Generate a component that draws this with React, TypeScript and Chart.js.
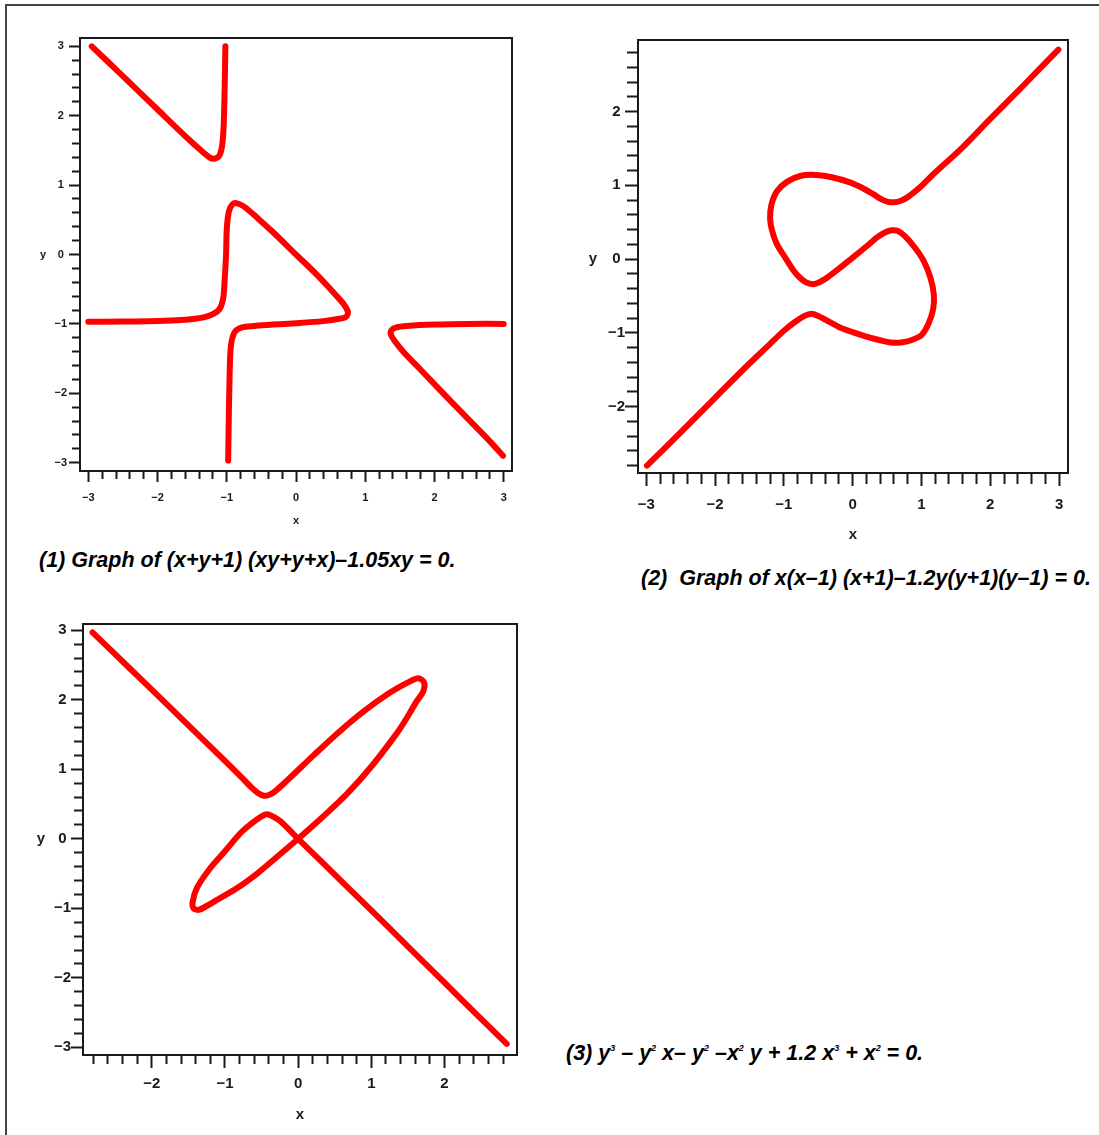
import React, { useEffect, useRef } from "react";
import { Chart, registerables } from "chart.js";

Chart.register(...registerables);

const FONT = '"Liberation Sans", Arial, Helvetica, sans-serif';
const RED = "#ff0000";
const INK = "#1a1a1a";
const MINOR_STEP = 0.2;

// ---------- Plot 1: (x+y+1)(xy+y+x) - 1.05xy = 0 ----------
const P1_UPPER_X = [-2.95, -2.5, -2.0, -1.54, -1.35, -1.25, -1.18, -1.11, -1.07, -1.05, -1.04, -1.03, -1.02];
const P1_UPPER_Y = [3.0, 2.57, 2.09, 1.65, 1.48, 1.4, 1.38, 1.42, 1.55, 1.75, 2.0, 2.4, 3.0];
const P1_MID_X = [-3.0, -2.5, -2.0, -1.6, -1.35, -1.2, -1.1, -1.05, -1.03, -1.01, -1.0, -0.97, -0.92, -0.86, -0.75, -0.55, -0.33, 0.0, 0.3, 0.58, 0.7, 0.75, 0.72, 0.6, 0.39, 0.0, -0.33, -0.6, -0.78, -0.88, -0.93, -0.95, -0.96, -0.97, -0.98];
const P1_MID_Y = [-0.97, -0.965, -0.96, -0.94, -0.91, -0.86, -0.78, -0.62, -0.36, 0.0, 0.36, 0.62, 0.72, 0.74, 0.69, 0.52, 0.32, 0.0, -0.29, -0.59, -0.73, -0.83, -0.9, -0.93, -0.96, -0.99, -1.01, -1.03, -1.05, -1.11, -1.25, -1.45, -1.8, -2.3, -2.97];
const P1_RIGHT_X = [3.0, 2.5, 2.0, 1.6, 1.45, 1.38, 1.37, 1.42, 1.55, 1.79, 2.27, 2.75, 2.99];
const P1_RIGHT_Y = [-1.0, -1.0, -1.01, -1.03, -1.05, -1.09, -1.15, -1.24, -1.4, -1.65, -2.15, -2.64, -2.9];
const P1_X_MAJOR = [-3, -2, -1, 0, 1, 2, 3];
const P1_Y_MAJOR = [-3, -2, -1, 0, 1, 2, 3];

// ---------- Plot 2: x(x-1)(x+1) - 1.2y(y+1)(y-1) = 0 ----------
const P2_X = [2.99, 2.5, 2.0, 1.56, 1.3, 1.15, 1.0, 0.9, 0.8, 0.7, 0.6, 0.5, 0.4, 0.3, 0.15, -0.04, -0.3, -0.53, -0.75, -0.95, -1.1, -1.18, -1.2, -1.17, -1.1, -0.98, -0.87, -0.77, -0.67, -0.58, -0.5, -0.4, -0.2, 0.0, 0.2, 0.35, 0.47, 0.57, 0.66, 0.76, 0.9, 1.03, 1.13, 1.18, 1.17, 1.1, 1.0, 0.85, 0.7, 0.55, 0.4, 0.2, 0.0, -0.2, -0.38, -0.5, -0.6, -0.7, -0.85, -1.01, -1.2, -1.56, -2.0, -2.5, -2.99];
const P2_Y = [2.84, 2.37, 1.9, 1.48, 1.26, 1.13, 0.99, 0.91, 0.84, 0.79, 0.77, 0.78, 0.82, 0.88, 0.96, 1.04, 1.11, 1.14, 1.13, 1.05, 0.92, 0.74, 0.55, 0.38, 0.2, 0.02, -0.14, -0.25, -0.32, -0.34, -0.32, -0.27, -0.13, 0.02, 0.17, 0.29, 0.36, 0.39, 0.38, 0.31, 0.16, -0.02, -0.25, -0.48, -0.68, -0.88, -1.03, -1.1, -1.13, -1.13, -1.1, -1.05, -0.99, -0.92, -0.83, -0.77, -0.74, -0.77, -0.86, -0.98, -1.15, -1.47, -1.88, -2.35, -2.8];
const P2_X_MAJOR = [-3, -2, -1, 0, 1, 2, 3];
const P2_Y_MAJOR = [-2, -1, 0, 1, 2];

// ---------- Plot 3: y^3 - y^2 x - y^2 - x^2 y + 1.2x^3 + x^2 = 0 ----------
const P3_X = [-2.81, -2.3, -1.8, -1.38, -1.0, -0.78, -0.64, -0.55, -0.47, -0.4, -0.32, -0.15, 0.21, 0.55, 0.89, 1.25, 1.5, 1.64, 1.72, 1.71, 1.62, 1.48, 1.35, 1.0, 0.67, 0.33, 0.0, -0.3, -0.56, -0.85, -1.16, -1.35, -1.43, -1.44, -1.38, -1.2, -1.0, -0.79, -0.6, -0.45, -0.38, -0.25, 0.0, 0.33, 0.67, 1.0, 1.5, 2.0, 2.5, 2.85];
const P3_Y = [2.97, 2.45, 1.94, 1.51, 1.12, 0.89, 0.74, 0.66, 0.62, 0.63, 0.68, 0.84, 1.2, 1.53, 1.83, 2.1, 2.25, 2.31, 2.25, 2.12, 1.98, 1.73, 1.52, 1.04, 0.65, 0.31, 0.0, -0.27, -0.5, -0.72, -0.91, -1.02, -1.0, -0.9, -0.7, -0.42, -0.18, 0.08, 0.25, 0.35, 0.34, 0.26, 0.0, -0.34, -0.69, -1.03, -1.55, -2.07, -2.59, -2.95];
const P3_X_MAJOR = [-2, -1, 0, 1, 2];
const P3_Y_MAJOR = [-3, -2, -1, 0, 1, 2, 3];

type AxisSpec = {
  min: number;
  max: number;
  majors: number[];
  minorFrom: number;
  minorTo: number;
  size: number;
  majorLen: number;
  minorLen: number;
  pad: number;
};

type PlotSpec = {
  series: { xs: number[]; ys: number[] }[];
  box: { left: number; top: number; width: number; height: number };
  padTop: number;
  padRight: number;
  x: AxisSpec;
  y: AxisSpec;
  tickFont: number;
  titleFont: number;
  titlePadBottom: number;
  yTitleX: number;
};

const PLOTS: PlotSpec[] = [
  {
    series: [
      { xs: P1_UPPER_X, ys: P1_UPPER_Y },
      { xs: P1_MID_X, ys: P1_MID_Y },
      { xs: P1_RIGHT_X, ys: P1_RIGHT_Y },
    ],
    box: { left: 20, top: 28, width: 500, height: 501 },
    padTop: 10,
    padRight: 8,
    x: { min: -3.12, max: 3.12, majors: P1_X_MAJOR, minorFrom: -3, minorTo: 3, size: 58, majorLen: 11, minorLen: 7, pad: 9 },
    y: { min: -3.12, max: 3.12, majors: P1_Y_MAJOR, minorFrom: -3, minorTo: 3, size: 60, majorLen: 11, minorLen: 7, pad: 2 },
    tickFont: 11,
    titleFont: 11,
    titlePadBottom: 1,
    yTitleX: 23,
  },
  {
    series: [{ xs: P2_X, ys: P2_Y }],
    box: { left: 578, top: 30, width: 498, height: 516 },
    padTop: 10,
    padRight: 8,
    x: { min: -3.12, max: 3.13, majors: P2_X_MAJOR, minorFrom: -3, minorTo: 3, size: 73, majorLen: 13, minorLen: 10, pad: 10 },
    y: { min: -2.9, max: 2.97, majors: P2_Y_MAJOR, minorFrom: -2.8, minorTo: 2.8, size: 60, majorLen: 13, minorLen: 10, pad: 0 },
    tickFont: 15,
    titleFont: 15,
    titlePadBottom: 2,
    yTitleX: 15,
  },
  {
    series: [{ xs: P3_X, ys: P3_Y }],
    box: { left: 23, top: 614, width: 502, height: 512 },
    padTop: 10,
    padRight: 8,
    x: { min: -2.94, max: 2.99, majors: P3_X_MAJOR, minorFrom: -2.8, minorTo: 2.8, size: 71, majorLen: 13, minorLen: 8, pad: 7 },
    y: { min: -3.11, max: 3.09, majors: P3_Y_MAJOR, minorFrom: -3, minorTo: 3, size: 60, majorLen: 12, minorLen: 8, pad: 0 },
    tickFont: 15,
    titleFont: 15,
    titlePadBottom: 2,
    yTitleX: 18,
  },
];

function tickValues(from: number, to: number, step: number): number[] {
  const out: number[] = [];
  const a = Math.round(from / step);
  const b = Math.round(to / step);
  for (let k = a; k <= b; k++) out.push(Math.round(k * step * 1000) / 1000);
  return out;
}

const isMajor = (majors: number[], v: number) => majors.some((m) => Math.abs(m - v) < 1e-6);
const fmt = (v: number) => (v < 0 ? "\u2212" + Math.abs(v) : String(v));

const decorPlugin = {
  id: "decor",
  afterDraw(chart: any, _args: any, opts: any) {
    const { ctx, chartArea } = chart;
    ctx.save();
    ctx.strokeStyle = INK;
    ctx.lineWidth = 2;
    ctx.strokeRect(chartArea.left, chartArea.top, chartArea.right - chartArea.left, chartArea.bottom - chartArea.top);
    ctx.fillStyle = INK;
    ctx.font = `bold ${opts.size}px ${FONT}`;
    ctx.textAlign = "center";
    ctx.textBaseline = "middle";
    ctx.fillText(opts.text, opts.x, chart.scales.y.getPixelForValue(0));
    ctx.restore();
  },
};

function makeAxis(a: AxisSpec, isX: boolean, spec: PlotSpec) {
  const tl = a.majorLen;
  const m = a.minorLen;
  return {
    type: "linear",
    position: isX ? "bottom" : "left",
    min: a.min,
    max: a.max,
    afterBuildTicks: (s: any) => {
      s.ticks = tickValues(a.minorFrom, a.minorTo, MINOR_STEP).map((v) => ({ value: v }));
    },
    afterFit: (s: any) => {
      if (isX) s.height = a.size;
      else s.width = a.size;
    },
    ticks: {
      autoSkip: false,
      maxRotation: 0,
      minRotation: 0,
      padding: a.pad,
      crossAlign: isX ? "near" : "center",
      color: INK,
      font: { family: FONT, size: spec.tickFont, weight: "bold" },
      callback: (v: number) => (isMajor(a.majors, v) ? fmt(v) : ""),
    },
    grid: {
      display: true,
      drawOnChartArea: false,
      drawTicks: true,
      tickLength: tl,
      tickWidth: 2,
      tickColor: INK,
      tickBorderDash: (c: any) => (c.tick && isMajor(a.majors, c.tick.value) ? [] : [m, 100]),
      tickBorderDashOffset: (c: any) =>
        c.tick && isMajor(a.majors, c.tick.value) ? 0 : isX ? 0 : 2 * m + 101 - tl,
    },
    border: { display: true, color: INK, width: 2 },
    title: isX
      ? {
          display: true,
          text: "x",
          color: INK,
          font: { family: FONT, size: spec.titleFont, weight: "bold" },
          padding: { top: 0, bottom: spec.titlePadBottom },
        }
      : { display: false },
  };
}

function ImplicitPlot({ spec }: { spec: PlotSpec }) {
  const ref = useRef<HTMLCanvasElement>(null);
  useEffect(() => {
    const canvas = ref.current;
    if (!canvas) return;
    const chart = new Chart(canvas, {
      type: "scatter",
      data: {
        datasets: spec.series.map((s) => ({
          data: s.xs.map((x, i) => ({ x, y: s.ys[i] })),
          showLine: true,
          borderColor: RED,
          backgroundColor: RED,
          borderWidth: 6,
          pointRadius: 0,
          pointHoverRadius: 0,
          tension: 0.3,
          borderCapStyle: "round",
          borderJoinStyle: "round",
          fill: false,
        })),
      },
      options: {
        responsive: false,
        animation: false,
        devicePixelRatio: 1,
        events: [],
        layout: { padding: { top: spec.padTop, right: spec.padRight, left: 0, bottom: 0 } },
        plugins: {
          legend: { display: false },
          tooltip: { enabled: false },
          decor: { text: "y", x: spec.yTitleX, size: spec.titleFont },
        } as any,
        scales: {
          x: makeAxis(spec.x, true, spec) as any,
          y: makeAxis(spec.y, false, spec) as any,
        },
      },
      plugins: [decorPlugin as any],
    });
    return () => chart.destroy();
  }, [spec]);
  const b = spec.box;
  return (
    <canvas
      ref={ref}
      width={b.width}
      height={b.height}
      style={{ position: "absolute", left: b.left, top: b.top, width: b.width, height: b.height, display: "block" }}
    />
  );
}

const captionStyle: React.CSSProperties = {
  position: "absolute",
  fontFamily: FONT,
  fontWeight: "bold",
  fontStyle: "italic",
  fontSize: 21.5,
  lineHeight: "24px",
  color: "#000",
  whiteSpace: "pre",
};
const supStyle: React.CSSProperties = { fontSize: 9, verticalAlign: "9px", lineHeight: 0 };

export default function App() {
  return (
    <div
      style={{
        position: "absolute",
        left: 0,
        top: 0,
        width: 1099,
        height: 1135,
        overflow: "hidden",
        background: "#fff",
      }}
    >
      <div
        style={{
          position: "absolute",
          left: 5,
          top: 4,
          right: 0,
          bottom: 0,
          borderTop: "2px solid #444",
          borderLeft: "2px solid #444",
        }}
      />
      {PLOTS.map((p, i) => (
        <ImplicitPlot key={i} spec={p} />
      ))}
      <div style={{ ...captionStyle, left: 39, top: 548 }}>(1) Graph of (x+y+1) (xy+y+x)–1.05xy = 0.</div>
      <div style={{ ...captionStyle, left: 641, top: 566 }}>(2)  Graph of x(x–1) (x+1)–1.2y(y+1)(y–1) = 0.</div>
      <div style={{ ...captionStyle, left: 566, top: 1041 }}>
        (3) y<sup style={supStyle}>3</sup> – y<sup style={supStyle}>2</sup> x– y<sup style={supStyle}>2</sup> –x
        <sup style={supStyle}>2</sup> y + 1.2 x<sup style={supStyle}>3</sup> + x<sup style={supStyle}>2</sup> = 0.
      </div>
    </div>
  );
}
